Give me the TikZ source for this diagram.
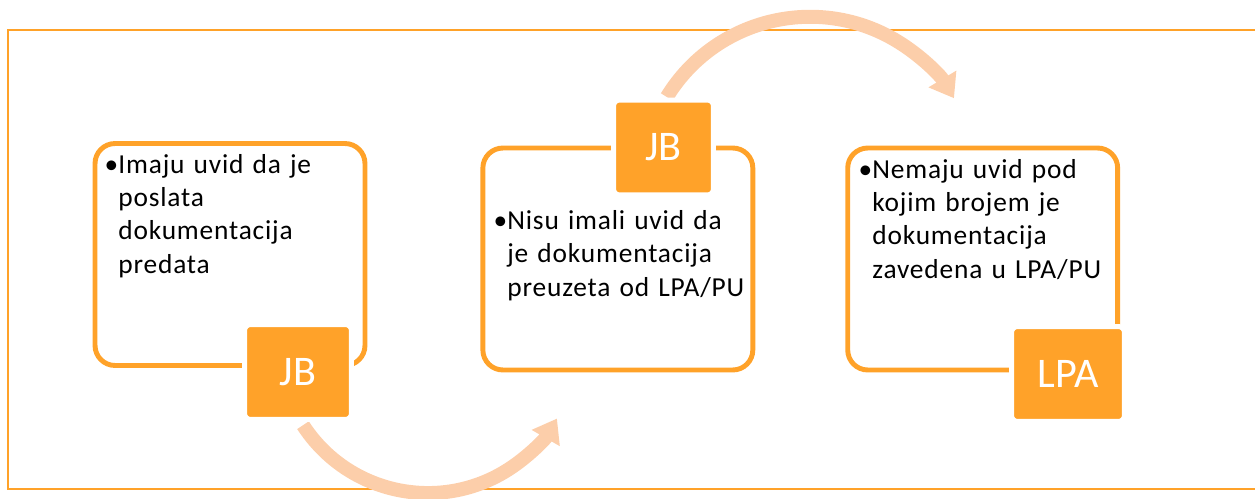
\documentclass[tikz,border=0pt]{standalone}
\usepackage{fontspec}
\setmainfont{Carlito}
\newfontfamily\cardfont{Carlito}[LetterSpace=3.0, WordSpace=1.3]
\usetikzlibrary{arrows.meta, positioning}
\definecolor{orng}{HTML}{FFA229}
\definecolor{peach}{HTML}{FCCEAA}

\begin{document}
\begin{tikzpicture}[
  x=0.02cm, y=0.02cm,
  card/.style={draw=orng, line width=2.8pt, rounded corners=0.4cm, fill=white,
               minimum width=5.4cm, minimum height=4.44cm},
  badge/.style={draw=white, fill=orng, line width=0.1cm, rounded corners=0.12cm,
                minimum height=1.9cm, text=white, font=\fontsize{24}{28}\selectfont},
  txt/.style={anchor=base west, inner sep=0pt, align=left,
              font=\cardfont\fontsize{15.6}{18.8}\selectfont},
  flow/.style={draw=peach, line width=0.28cm, -{Triangle[length=0.45cm, width=0.62cm]}}
]
  \useasboundingbox (0,0) rectangle (1255,498);
  % frame, open on the right
  \draw[orng, line width=1.1pt] (1255,468) -| (8,9) -- (1255,9);

  % curved arrows
  \coordinate (f1) at (303,72.8);
  \coordinate (f2) at (666.8,401);
  \draw[flow] (f1) arc[start angle=213, end angle=330, radius=2.98cm];
  \draw[flow] (f2) arc[start angle=148.5, end angle=31, radius=3.36cm];

  % cards
  \node[card] (c1) at (230,243.5) {};
  \node[card, right=2.26cm of c1, yshift=-0.09cm] (c2) {};
  \node[card, right=1.8cm of c2] (c3) {};

  % badges
  \node[badge, minimum width=2.14cm] (jb1) at (298,126) {JB};
  \node[badge, minimum width=2.0cm] (jb2) at (663.5,350.5) {JB};
  \node[badge, minimum width=2.26cm] (lpa) at (1068,124) {LPA};

  % texts (anchored on the last line)
  \node[txt] (t1) at (118,225)
    {\llap{•}Imaju uvid da je\\poslata\\dokumentacija\\predata};
  \node[txt] (t2) at (507,202)
    {\llap{•}Nisu imali uvid da\\je dokumentacija\\preuzeta od LPA/PU};
  \node[txt] (t3) at (872,220)
    {\llap{•}Nemaju uvid pod\\kojim brojem je\\dokumentacija\\zavedena u LPA/PU};
\end{tikzpicture}
\end{document}
